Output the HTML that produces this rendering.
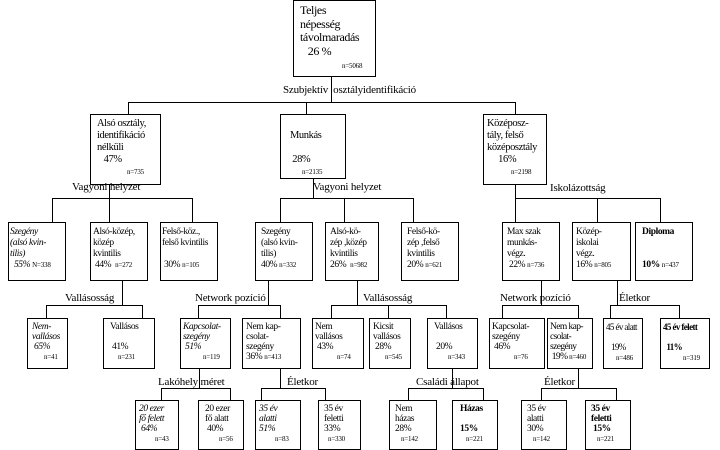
<!DOCTYPE html>
<html><head><meta charset="utf-8"><style>
body{margin:0;width:720px;height:444px;background:#fff;position:relative;overflow:hidden;font-family:"Liberation Serif",serif;font-size:11px;color:#000;line-height:12px}
.b{position:absolute;border:1px solid #000;box-sizing:border-box;padding:2px 3px;background:#fff;white-space:nowrap;letter-spacing:-0.4px;overflow:hidden}
.n{font-size:7px;letter-spacing:-0.2px}
.l{position:absolute;white-space:nowrap;font-size:11px;letter-spacing:-0.2px}
svg{position:absolute;left:0;top:0}
.s{font-size:9.5px;line-height:11px}
.t{font-size:9.5px;line-height:10px}
</style></head><body>
<svg width="720" height="444" stroke="#000" stroke-width="1" fill="none" shape-rendering="crispEdges">
<path d="M331.5 76V102.5M128.5 102.5H515.5M128.5 102V114M306.5 102V114M515.5 102V114"/>
<path d="M109.5 184V198.5M52.5 198.5H192.5M52.5 198V222M109.5 198V222M192.5 198V222"/>
<path d="M313.5 178V198.5M280.5 198.5H413.5M280.5 198V222M344.5 198V222M413.5 198V222"/>
<path d="M515.5 184V198.5H660.5M515.5 198V222M597.5 198V222M660.5 198V222"/>
<path d="M122.5 280V305.5M46.5 305.5H142.5M46.5 305V318M142.5 305V318"/>
<path d="M268.5 280V305.5M198.5 305.5H280.5M198.5 305V318M280.5 305V318"/>
<path d="M357.5 280V305.5M331.5 305.5H446.5M331.5 305V318M388.5 305V318M446.5 305V318"/>
<path d="M541.5 280V305.5M502.5 305.5H578.5M502.5 305V318M578.5 305V318"/>
<path d="M617.5 280V305.5M610.5 305.5H679.5M610.5 305V318M679.5 305V318"/>
<path d="M199.5 368V388.5M161.5 388.5H230.5M161.5 388V400M230.5 388V400"/>
<path d="M280.5 368V388.5M261.5 388.5H325.5M261.5 388V400M325.5 388V400"/>
<path d="M452.5 368V388.5M408.5 388.5H483.5M408.5 388V400M483.5 388V400"/>
<path d="M578.5 368V388.5M541.5 388.5H616.5M541.5 388V400M616.5 388V400"/>
</svg>

<div class="b" style="left:293px;top:0;width:83px;height:77px;font-size:12px;line-height:13.5px;padding:3px 6px">Teljes<br>népesség<br>távolmaradás<br>&nbsp;&nbsp;&nbsp;26 %<br><span class="n" style="margin-left:42px">n=5068</span></div>
<div class="l" style="left:283px;top:84px">Szubjektív &nbsp;osztályidentifikáció</div>

<div class="b" style="left:90px;top:114px;width:71px;height:71px;font-size:10.5px;padding:3px 6px">Alsó osztály,<br>identifikáció<br>nélküli<br>&nbsp;&nbsp;&nbsp;47%<br><span class="n" style="margin-left:30px">n=735</span></div>
<div class="b" style="left:280px;top:114px;width:66px;height:65px;padding:3px 9px;font-size:10.5px"><br>Munkás<br><br>&nbsp;28%<br><span class="n" style="margin-left:12px">n=2135</span></div>
<div class="b" style="left:483px;top:114px;width:64px;height:71px;font-size:10.5px;padding:3px 3px">Középosz-<br>tály, felső<br>középosztály<br>&nbsp;&nbsp;&nbsp;&nbsp;&nbsp;16%<br><span class="n" style="margin-left:24px">n=2198</span></div>

<div class="l" style="left:72px;top:181px">Vagyoni helyzet</div>
<div class="l" style="left:313px;top:181px">Vagyoni helyzet</div>
<div class="l" style="left:550px;top:182px">Iskolázottság</div>

<div class="b s" style="left:8px;top:222px;width:58px;height:59px;padding:4px 1px"><i>Szegény<br>(alsó kvin-<br>tilis)</i><br>&nbsp;&nbsp;<i>55%</i> <span class="n">N=338</span></div>
<div class="b s" style="left:90px;top:222px;width:58px;height:59px;padding:4px 2px">Alsó-közép,<br>közép<br>kvintilis<br>&nbsp;44% &nbsp;<span class="n">n=272</span></div>
<div class="b s" style="left:160px;top:222px;width:58px;height:59px;padding:4px 1px">Felső-köz.,<br>felső kvintilis<br><br>&nbsp;30% <span class="n">n=105</span></div>
<div class="b s" style="left:255px;top:222px;width:58px;height:59px;padding:4px 3px">&nbsp;Szegény<br>&nbsp;(alsó kvin-<br>&nbsp;tilis)<br>&nbsp;40% <span class="n">n=332</span></div>
<div class="b s" style="left:325px;top:222px;width:54px;height:59px;padding:4px 4px">Alsó-kö-<br>zép ,közép<br>kvintilis<br>26% &nbsp;<span class="n">n=982</span></div>
<div class="b s" style="left:401px;top:222px;width:58px;height:59px;padding:4px 5px">Felső-kö-<br>zép ,felső<br>kvintilis<br>20% <span class="n">n=621</span></div>
<div class="b s" style="left:502px;top:222px;width:58px;height:59px;padding:4px 4px">Max szak<br>munkás-<br>végz.<br>&nbsp;22% <span class="n">n=736</span></div>
<div class="b s" style="left:572px;top:222px;width:59px;height:59px;padding:4px 3px">Közép-<br>iskolai<br>végz.<br>16% <span class="n">n=805</span></div>
<div class="b s" style="left:635px;top:222px;width:58px;height:59px;padding:4px 6px"><b>Diploma</b><br><br><br><b>10%</b> <span class="n">n=437</span></div>

<div class="l" style="left:65px;top:292px">Vallásosság</div>
<div class="l" style="left:195px;top:292px">Network pozíció</div>
<div class="l" style="left:363px;top:292px">Vallásosság</div>
<div class="l" style="left:500px;top:292px">Network pozíció</div>
<div class="l" style="left:619px;top:292px">Életkor</div>

<div class="b t" style="left:27px;top:318px;width:41px;height:51px;padding:3px 4px"><i>Nem-<br>vallásos<br>&nbsp;65%</i><br><span class="n" style="margin-left:12px">n=41</span></div>
<div class="b t" style="left:103px;top:318px;width:52px;height:51px;padding:3px 6px">Vallásos<br><br>&nbsp;41%<br><span class="n" style="margin-left:8px">n=231</span></div>
<div class="b t" style="left:180px;top:318px;width:51px;height:51px;padding:3px 2px"><i>Kapcsolat-<br>szegény<br>&nbsp;51%</i><br><span class="n" style="margin-left:20px">n=119</span></div>
<div class="b t" style="left:242px;top:318px;width:59px;height:51px;padding:3px 3px">Nem kap-<br>csolat-<br>szegény<br>36% <span class="n">n=413</span></div>
<div class="b t" style="left:312px;top:318px;width:52px;height:51px;padding:3px 2px">Nem<br>vallásos<br>&nbsp;43%<br><span class="n" style="margin-left:22px">n=74</span></div>
<div class="b t" style="left:369px;top:318px;width:42px;height:51px;padding:3px 3px">Kicsit<br>vallásos<br>&nbsp;28%<br><span class="n" style="margin-left:12px">n=545</span></div>
<div class="b t" style="left:427px;top:318px;width:51px;height:51px;padding:3px 6px">Vallásos<br><br>&nbsp;20%<br><span class="n" style="margin-left:14px">n=343</span></div>
<div class="b t" style="left:489px;top:318px;width:56px;height:51px;padding:3px 2px">Kapcsolat-<br>szegény<br>&nbsp;46%<br><span class="n" style="margin-left:22px">n=76</span></div>
<div class="b t" style="left:547px;top:318px;width:46px;height:51px;padding:3px 2px;letter-spacing:-0.6px">Nem kap-<br>csolat-<br>szegény<br>&nbsp;19% <span class="n">n=460</span></div>
<div class="b t" style="left:603px;top:318px;width:40px;height:51px;padding:3px 2px;font-size:9px;letter-spacing:-0.6px">45 év alatt<br><br>&nbsp;&nbsp;&nbsp;19%<br><span class="n" style="margin-left:10px">n=486</span></div>
<div class="b t" style="left:660px;top:318px;width:50px;height:51px;padding:3px 2px;font-size:9px;letter-spacing:-0.6px"><b>45 év felett</b><br><br>&nbsp;&nbsp;<b>11%</b><br><span class="n" style="margin-left:20px">n=319</span></div>

<div class="l" style="left:158px;top:376px">Lakóhely méret</div>
<div class="l" style="left:287px;top:376px">Életkor</div>
<div class="l" style="left:416px;top:376px">Családi állapot</div>
<div class="l" style="left:544px;top:376px">Életkor</div>

<div class="b t" style="left:135px;top:400px;width:44px;height:50px;padding:3px 3px"><i>20 ezer<br>fő felett<br>&nbsp;64%</i><br><span class="n" style="margin-left:16px">n=43</span></div>
<div class="b t" style="left:198px;top:400px;width:46px;height:50px;padding:3px 6px">20 ezer<br>fő alatt<br>&nbsp;40%<br><span class="n" style="margin-left:14px">n=56</span></div>
<div class="b t" style="left:255px;top:400px;width:46px;height:50px;padding:3px 3px"><i>35 év<br>alatti<br>51%</i><br><span class="n" style="margin-left:16px">n=83</span></div>
<div class="b t" style="left:318px;top:400px;width:43px;height:50px;padding:3px 5px">35 év<br>feletti<br>33%<br><span class="n" style="margin-left:4px">n=330</span></div>
<div class="b t" style="left:389px;top:400px;width:48px;height:50px;padding:3px 5px">Nem<br>házas<br>28%<br><span class="n" style="margin-left:6px">n=142</span></div>
<div class="b t" style="left:452px;top:400px;width:46px;height:50px;padding:3px 7px"><b>Házas</b><br><br><b>15%</b><br><span class="n" style="margin-left:6px">n=221</span></div>
<div class="b t" style="left:521px;top:400px;width:46px;height:50px;padding:3px 5px">35 év<br>alatti<br>30%<br><span class="n" style="margin-left:6px">n=142</span></div>
<div class="b t" style="left:585px;top:400px;width:46px;height:50px;padding:3px 5px"><b>35 év<br>feletti<br>&nbsp;15%</b><br><span class="n" style="margin-left:6px">n=221</span></div>
</body></html>
